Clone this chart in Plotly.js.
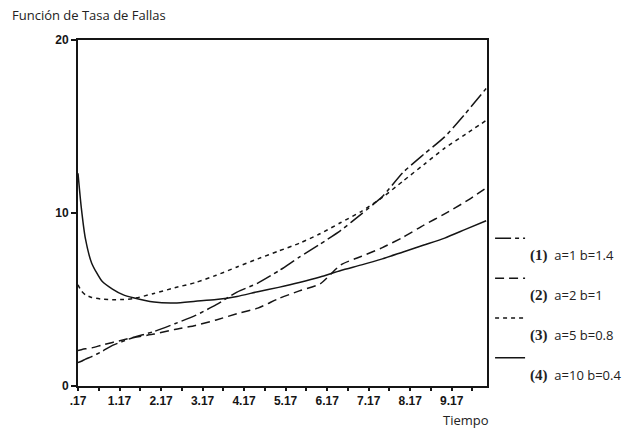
<!DOCTYPE html>
<html>
<head>
<meta charset="utf-8">
<script src="https://cdn.plot.ly/plotly-3.0.1.min.js"></script>
<style>html,body{margin:0;padding:0;background:#fff;}#chart{width:628px;height:428px;}</style>
</head>
<body>
<div id="chart"></div>
<script>
// Time values (x)
var tiempo = [0.17, 0.25, 0.35, 0.5, 0.75, 1, 1.25, 1.5, 2, 2.5, 3, 3.5, 4, 4.5, 5, 5.5, 6, 6.5, 7, 7.5, 8, 8.5, 9, 9.5, 10];
// Failure-rate curves
var serie1 = [1.35, 1.43, 1.55, 1.7, 2.0, 2.35, 2.58, 2.8, 3.15, 3.6, 4.08, 4.7, 5.43, 5.95, 6.65, 7.45, 8.2, 9.0, 9.95, 10.95, 12.35, 13.4, 14.4, 15.75, 17.2];
var serie2 = [2.05, 2.1, 2.15, 2.2, 2.37, 2.52, 2.66, 2.8, 3.0, 3.27, 3.5, 3.82, 4.18, 4.5, 5.05, 5.5, 5.9, 7.0, 7.5, 8.0, 8.6, 9.3, 9.95, 10.65, 11.45];
var serie3 = [5.85, 5.5, 5.27, 5.12, 5.02, 4.99, 5.0, 5.05, 5.35, 5.68, 5.98, 6.4, 6.88, 7.35, 7.8, 8.25, 8.8, 9.45, 10.1, 10.9, 11.85, 12.8, 13.75, 14.55, 15.35];
var serie4 = [12.3, 10.3, 8.5, 7.1, 6.05, 5.6, 5.28, 5.1, 4.85, 4.8, 4.9, 5.0, 5.18, 5.45, 5.7, 5.98, 6.3, 6.68, 7.0, 7.35, 7.75, 8.15, 8.55, 9.05, 9.55];

var numeros = ['(1)', '(2)', '(3)', '(4)'];
var parametros = ['a=1 b=1.4', 'a=2 b=1', 'a=5 b=0.8', 'a=10 b=0.4'];

var xTickVals = [0.17, 1.17, 2.17, 3.17, 4.17, 5.17, 6.17, 7.17, 8.17, 9.17];
var xTickText = ['.17', '1.17', '2.17', '3.17', '4.17', '5.17', '6.17', '7.17', '8.17', '9.17'];
var xMinorVals = [0.67, 1.67, 2.67, 3.67, 4.67, 5.67, 6.67, 7.67, 8.67, 9.67];
var yTickVals = [0, 10, 20];
var yTickText = ['0', '10', '20'];

var series = [serie1, serie2, serie3, serie4];
var dashes = ['16px,4px,4px,4px', '9px,5px', '4px,4px', 'solid'];
var ink = '#151515';

function legendName(i) {
  return '&nbsp;<br><span style="font-family:\'Liberation Serif\';font-weight:bold;font-size:15px">' + numeros[i] + '</span>  ' + parametros[i];
}

var traces = series.map(function (s, i) {
  return {
    x: tiempo, y: s, type: 'scatter', mode: 'lines',
    name: legendName(i), legendgroup: 'g' + i,
    line: {color: ink, width: 1.5, dash: dashes[i], shape: 'spline', smoothing: 0.6}
  };
});

var tickFont = {family: 'Liberation Sans, Arial, sans-serif', size: 12, color: ink, weight: 'bold'};

var layout = {
  width: 628, height: 428,
  margin: {l: 78, r: 141, t: 40, b: 42, pad: 0, autoexpand: false},
  paper_bgcolor: '#fff', plot_bgcolor: '#fff',
  showlegend: true,
  title: {
    text: 'Función de Tasa de Fallas',
    font: {family: 'Open Sans, sans-serif', size: 13, color: '#222'},
    xref: 'container', x: 12 / 628, xanchor: 'left',
    yref: 'container', y: 1 - 15 / 428, yanchor: 'middle'
  },
  xaxis: {
    range: [0.17, 10.02],
    tickmode: 'array', tickvals: xTickVals, ticktext: xTickText,
    ticks: 'outside', ticklen: 3, tickwidth: 2, tickcolor: ink,
    minor: {tickmode: 'array', tickvals: xMinorVals, ticks: 'outside', ticklen: 3, tickwidth: 2, tickcolor: ink, showgrid: false},
    showline: true, linewidth: 2, linecolor: ink, mirror: true,
    showgrid: false, zeroline: false,
    tickfont: tickFont
  },
  yaxis: {
    range: [0, 20],
    tickmode: 'array', tickvals: yTickVals, ticktext: yTickText,
    ticks: 'outside', ticklen: 5, tickwidth: 2, tickcolor: ink,
    showline: true, linewidth: 2, linecolor: ink, mirror: true,
    showgrid: false, zeroline: false,
    tickfont: tickFont
  },
  legend: {
    x: 1.0075, xanchor: 'left', y: 0.47, yanchor: 'top',
    valign: 'top',
    bgcolor: 'rgba(0,0,0,0)', borderwidth: 0,
    font: {family: 'Open Sans, sans-serif', size: 13, color: '#222'},
    tracegroupgap: 3
  },
  annotations: [{
    text: 'Tiempo', xref: 'paper', yref: 'paper',
    x: (466 - 78) / 409, y: (386 - 420) / 346,
    xanchor: 'center', yanchor: 'middle', showarrow: false,
    font: {family: 'Open Sans, sans-serif', size: 13, color: '#222'}
  }]
};

Plotly.newPlot('chart', traces, layout, {displayModeBar: false, staticPlot: true});
</script>
</body>
</html>
